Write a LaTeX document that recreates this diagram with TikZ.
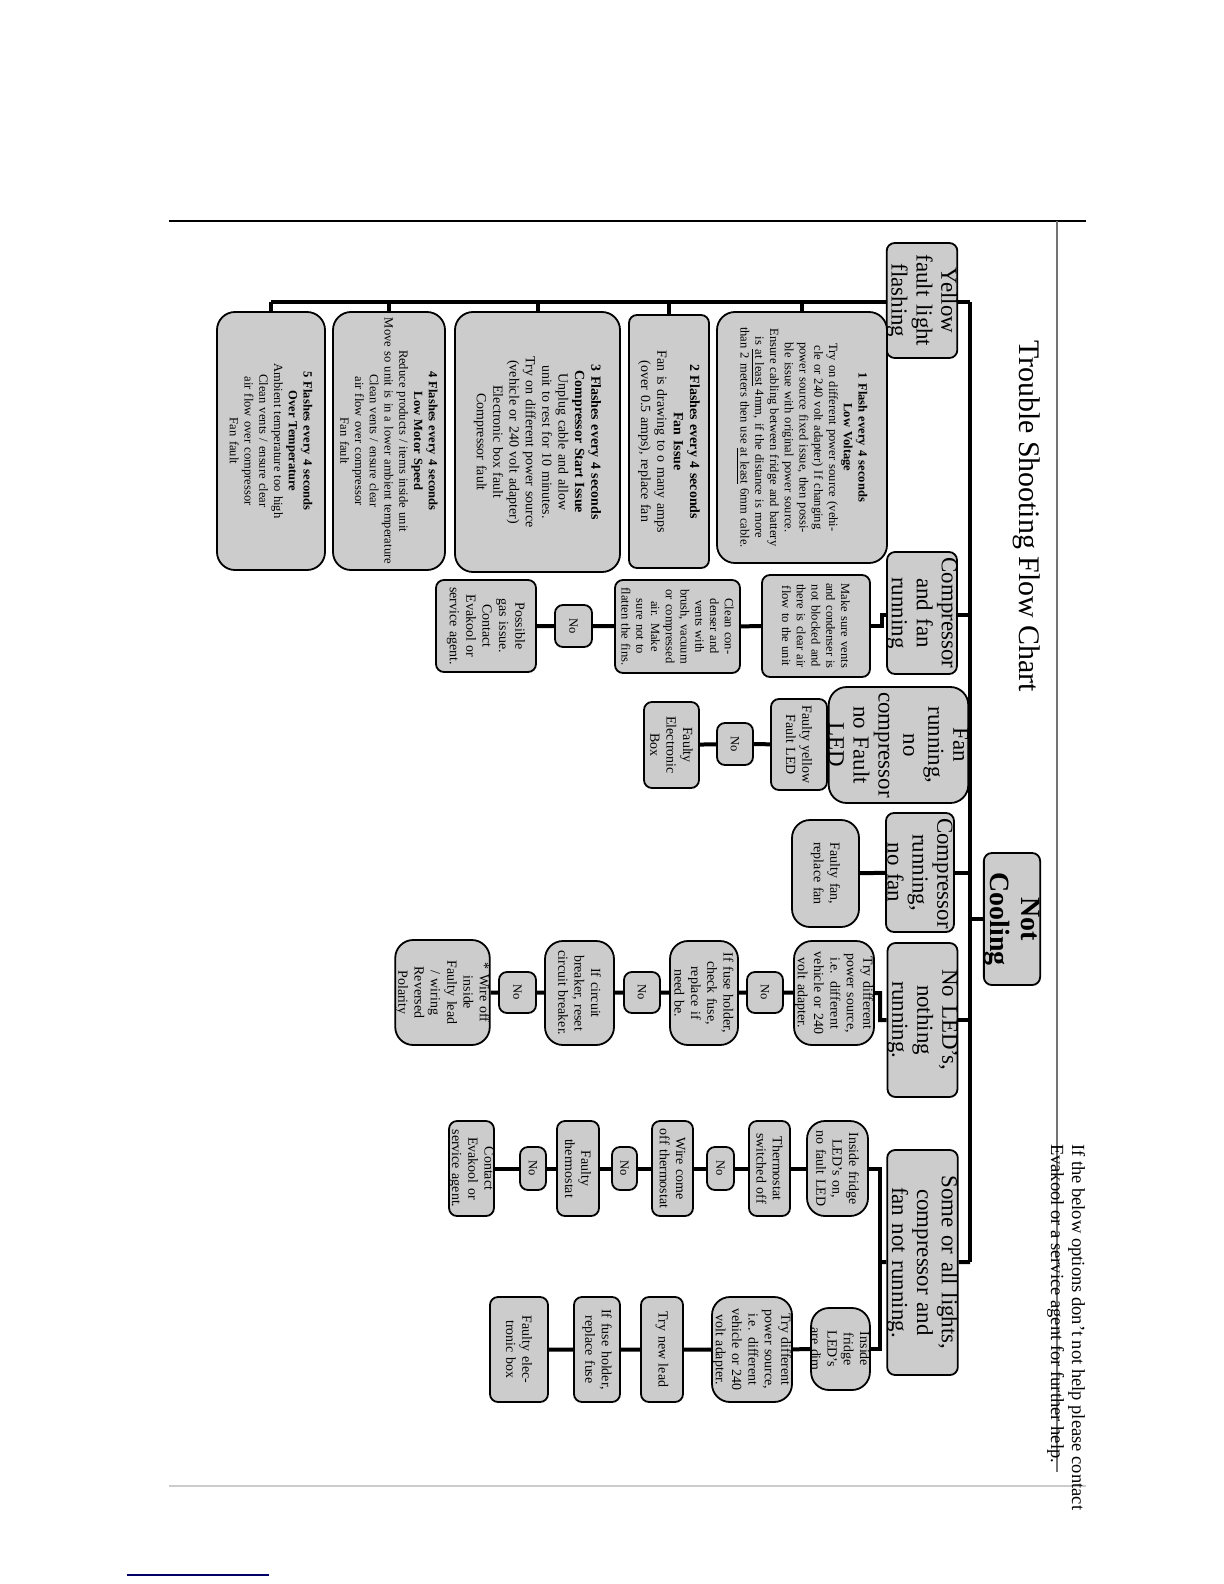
\documentclass[tikz,border=0pt]{standalone}
\usepackage{fontspec}
\setmainfont{Liberation Serif}
\usetikzlibrary{backgrounds}
\tikzset{
  bx/.style={draw=black, line width=0.9bp, fill=black!20, rounded corners=4bp, rotate=-90, align=center, inner sep=0pt},
  bigbx/.style={bx, rounded corners=9bp},
  conn/.style={line width=2bp},
  hd/.style={font=\fontsize{11.5}{12.5}\selectfont},
  sm/.style={font=\fontsize{6.3}{7.4}\selectfont},
  md/.style={font=\fontsize{7}{8.2}\selectfont},
}
\newcommand\bxx[7]{%
  \pgfmathsetmacro\bxw{(#5-#4)*0.5-5}%
  \pgfmathsetmacro\bxh{(#3-#2)*0.5}%
  \pgfmathsetmacro\bxl{(#5-#4)*0.5}%
  \node[#7, minimum width=\bxl bp, minimum height=\bxh bp, text width=\bxw bp] (#1) at ({(#2+#3)/2},{(#4+#5)/2}) {#6};}
\begin{document}
\begin{tikzpicture}[x=0.5bp,y=-0.5bp]
\useasboundingbox (0,0) rectangle (1224,1584);
% page decoration
\draw[line width=1.3bp] (169,221) -- (1086,221);
\draw[black!55, line width=0.6bp] (1057,221) -- (1057,1472);
\draw[black!20, line width=1.3bp] (169,1486) -- (1086,1486);
\draw[blue!40!black, line width=1bp] (127,1575) -- (269,1575);
% title and note
\node[rotate=-90, font=\fontsize{15}{17}\selectfont] (title) at (1027,516) {Trouble Shooting Flow Chart};
\node[rotate=-90, anchor=south west, align=left, font=\fontsize{9.3}{10.6}\selectfont] (note) at (1040,1137) {If the below options don't not help please contact\\Evakool or a service agent for further help.};
% boxes
\bxx{nc}{989}{1035}{853}{985}{\textbf{Not Cooling}}{bx,font=\fontsize{14}{16}\selectfont}
\bxx{yel}{890}{954}{243}{358}{Yellow fault light flashing}{bx,hd}
\bxx{cfr}{890}{954}{552}{674}{Compressor and fan running}{bx,hd}
\bxx{frn}{843}{954}{687}{803}{Fan running, no compressor no Fault LED}{bigbx,hd}
\bxx{cnf}{886}{954}{813}{932}{Compressor running, no fan}{bx,hd}
\bxx{nol}{891}{954}{943}{1097}{No LED's, nothing running.}{bx,hd}
\bxx{som}{891}{954}{1150}{1375}{Some or all lights, compressor and fan not running.}{bx,hd}
% yellow subtree
\bxx{y1}{717}{887}{312}{563}{\textbf{1 Flash every 4 seconds}\\\textbf{Low Voltage}\\* Try on different power source (vehicle or 240 volt adapter) If changing power source fixed issue, then possible issue with original power source.\\* Ensure cabling between fridge and battery is \underline{at least} 4mm, if the distance is more than 2 meters then use \underline{at least} 6mm cable.}{bigbx,sm}
\bxx{y2}{629}{709}{315}{568}{\textbf{2 Flashes every 4 seconds}\\\textbf{Fan Issue}\\Fan is drawing to o many amps (over 0.5 amps), replace fan}{bx,md}
\bxx{y3}{455}{620}{312}{572}{\textbf{3 Flashes every 4 seconds}\\\textbf{Compressor Start Issue}\\* Unplug cable and allow unit to rest for 10 minutes.\\* Try on different power source (vehicle or 240 volt adapter)\\* Electronic box fault\\* Compressor fault}{bigbx,md}
\bxx{y4}{333}{445}{312}{570}{\textbf{4 Flashes every 4 seconds}\\\textbf{Low Motor Speed}\\* Reduce products / items inside unit\\* Move so unit is in a lower ambient temperature\\Clean vents / ensure clear air flow over compressor\\* Fan fault}{bigbx,sm}
\bxx{y5}{217}{325}{312}{570}{\textbf{5 Flashes every 4 seconds}\\\textbf{Over Temperature}\\* Ambient temperature too high\\* Clean vents / ensure clear air flow over compressor\\* Fan fault}{bigbx,sm}
% compressor and fan running chain
\bxx{ms}{762}{870}{575}{677}{Make sure vents and condenser is not blocked and there is clear air flow to the unit}{bx,sm}
\bxx{cc}{615}{740}{580}{673}{Clean condenser and vents with brush, vacuum or compressed air. Make sure not to flatten the fins.}{bx,sm}
\bxx{n1}{555}{592}{605}{647}{No}{bx,sm}
\bxx{gas}{436}{536}{580}{672}{Possible gas issue.\\Contact Evakool or service agent.}{bx,md}
% fan running chain
\bxx{fy}{771}{827}{699}{790}{Faulty yellow Fault LED}{bx,md}
\bxx{n2}{717}{753}{723}{765}{No}{bx,sm}
\bxx{feb}{644}{699}{702}{788}{Faulty Electronic Box}{bx,md}
% compressor no fan
\bxx{ff}{792}{859}{820}{927}{Faulty fan, replace fan}{bigbx,md}
% no LEDs chain
\bxx{td}{794}{874}{941}{1045}{Try different power source, i.e. different vehicle or 240 volt adapter.}{bigbx,md}
\bxx{n3}{747}{783}{972}{1013}{No}{bx,sm}
\bxx{fh}{670}{738}{941}{1045}{If fuse holder, check fuse, replace if need be.}{bigbx,md}
\bxx{n4}{624}{660}{972}{1013}{No}{bx,sm}
\bxx{cb}{545}{614}{941}{1045}{If circuit breaker, reset circuit breaker.}{bigbx,md}
\bxx{n5}{499}{536}{972}{1013}{No}{bx,sm}
\bxx{wo}{398}{487}{940}{1045}{* Wire off inside\\* Faulty lead / wiring\\* Reversed Polarity}{bigbx,md}
% some lights chain a
\bxx{ia}{807}{868}{1121}{1216}{Inside fridge LED's on, no fault LED}{bigbx,md}
\bxx{ts}{749}{790}{1121}{1216}{Thermostat switched off}{bx,md}
\bxx{n6}{707}{734}{1147}{1190}{No}{bx,sm}
\bxx{wc}{652}{693}{1121}{1216}{Wire come off thermostat}{bx,md}
\bxx{n7}{612}{637}{1147}{1190}{No}{bx,sm}
\bxx{ft}{557}{599}{1121}{1216}{Faulty thermostat}{bx,md}
\bxx{n8}{520}{546}{1147}{1190}{No}{bx,sm}
\bxx{ce}{451}{492}{1121}{1216}{Contact Evakool or service agent.}{bx,md}
% some lights chain b
\bxx{ib}{813}{868}{1308}{1390}{Inside fridge LED's are dim}{bigbx,md}
\bxx{tb}{712}{792}{1297}{1402}{Try different power source, i.e. different vehicle or 240 volt adapter.}{bigbx,md}
\bxx{tl}{641}{683}{1297}{1402}{Try new lead}{bx,md}
\bxx{fr}{574}{620}{1297}{1402}{If fuse holder, replace fuse}{bx,md}
\bxx{fe}{490}{548}{1297}{1402}{Faulty electronic box}{bx,md}
% connectors
\begin{scope}[on background layer]
\coordinate (st) at (970,302);
\coordinate (se) at (970,1262);
\coordinate (bus) at (271,302);
\coordinate (k1) at (882,615);
\coordinate (k2) at (880,993);
\coordinate (k3) at (880,1262);
\draw[conn] (st) -- (se);
\draw[conn] (st) -- (bus);
\foreach \b in {y1,y2,y3,y4,y5} \draw[conn] (\b |- st) -- (\b);
\draw[conn] (nc) -- (nc -| st);
\draw[conn] (cfr |- k1) -- (st |- k1);
\draw[conn] (cfr |- k1) -- (k1) |- (ms);
\draw[conn] (ms) -- (cc) -- (n1) -- (gas);
\draw[conn] (frn) -- (frn -| st);
\draw[conn] (frn) -- (fy) -- (n2) -- (feb);
\draw[conn] (cnf) -- (cnf -| st);
\draw[conn] (cnf) -- (ff);
\draw[conn] (nol) -- (nol -| st);
\draw[conn] (nol) -- (nol -| k2) -- (k2) -- (td) -- (n3) -- (fh) -- (n4) -- (cb) -- (n5) -- (wo);
\draw[conn] (som) -- (se);
\draw[conn] (som) -- (k3);
\draw[conn] (ia) -| (k3);
\draw[conn] (ib) -| (k3);
\draw[conn] (ia) -- (ts) -- (n6) -- (wc) -- (n7) -- (ft) -- (n8) -- (ce);
\draw[conn] (ib) -- (tb) -- (tl) -- (fr) -- (fe);
\end{scope}
\end{tikzpicture}
\end{document}
